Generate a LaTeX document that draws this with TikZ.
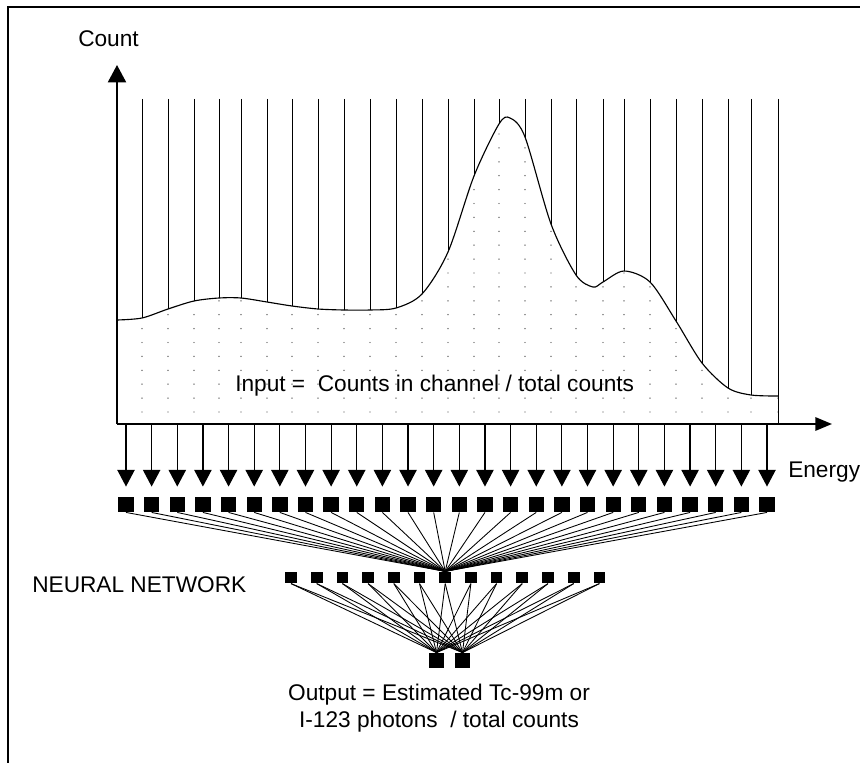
\documentclass[tikz,border=0pt]{standalone}
\usepackage{fontspec}
\setmainfont{Liberation Sans}
\usetikzlibrary{arrows.meta}
\begin{document}
\begin{tikzpicture}[x=0.75pt,y=-0.75pt,
  lbl/.style={font=\fontsize{17}{20}\selectfont, inner sep=0pt},
  insq/.style={fill=black, minimum size=11.5pt, inner sep=0pt},
  hsq/.style={fill=black, minimum size=8.75pt, inner sep=0pt},
  outsq/.style={fill=black, minimum size=11.5pt, inner sep=0pt},
  vline/.style={line width=0.75pt},
  downarr/.style={line width=0.9pt, shorten >=7.5pt, -{Triangle[width=13pt,length=12.5pt]}},
  axisline/.style={line width=1.6pt},
  netline/.style={line width=0.65pt},
  gdot/.style={fill=black!70},
]
\useasboundingbox (0,0) rectangle (860,763);
% frame
\draw[line width=1.5pt] (8,765) -- (8,7) -- (862,7);

% vertical channel lines above the curve
\begin{scope}
\clip (117,90) -- plot[smooth,tension=0.5] coordinates {(117,320) (142,318) (168,309) (194,301) (219,298) (241,298) (267,302) (292,306) (318,309) (344,310) (370,310) (396,308) (422,294) (448,252) (474,176) (499,124) (510,118) (525,137) (551,224) (576,275) (593,287) (603,282) (624,271) (650,282) (676,321) (702,363) (728,388) (751,395) (778,396)} -- (778,90) -- cycle;
\foreach \x in {142,168,194,219,241,267,292,318,344,370,396,422,448,474,499,525,551,576,603,624,650,676,702,728,751}
  \draw[vline] (\x,99) -- (\x,424);
\end{scope}
\draw[vline] (778,99) -- (778,424);

% dots below the curve
\begin{scope}
\clip (117,424) -- plot[smooth,tension=0.5] coordinates {(117,320) (142,318) (168,309) (194,301) (219,298) (241,298) (267,302) (292,306) (318,309) (344,310) (370,310) (396,308) (422,294) (448,252) (474,176) (499,124) (510,118) (525,137) (551,224) (576,275) (593,287) (603,282) (624,271) (650,282) (676,321) (702,363) (728,388) (751,395) (778,396)} -- (778,424) -- cycle;
\foreach \x in {142,168,194,219,241,267,292,318,344,370,396,422,448,474,499,525,551,576,603,624,650,676,702,728,751,778}
  \foreach \k in {0,...,21}
    \fill[gdot] (\x,{412-13.9*\k}) circle[radius=0.55pt];
\end{scope}

% the spectrum curve
\draw[line width=0.85pt] plot[smooth,tension=0.5] coordinates {(117,320) (142,318) (168,309) (194,301) (219,298) (241,298) (267,302) (292,306) (318,309) (344,310) (370,310) (396,308) (422,294) (448,252) (474,176) (499,124) (510,118) (525,137) (551,224) (576,275) (593,287) (603,282) (624,271) (650,282) (676,321) (702,363) (728,388) (751,395) (778,396)};

% axes
\coordinate (O) at (117,424);
\coordinate (ytop) at (117,65);
\coordinate (xend) at (832,424);
\draw[axisline,-{Triangle[width=13.5pt,length=13pt]}] (O) -- (ytop);
\draw[axisline,-{Triangle[width=10pt,length=12.5pt]}] (O) -- (xend);

% labels
\node[lbl, anchor=base west] (count) at (78,47) {Count};
\node[lbl, anchor=base west] (energy) at (788,477) {Energy};
\node[lbl, anchor=base west] (input) at (235,391) {Input =\ \ Counts in channel / total counts};
\node[lbl, anchor=base west] (nn) at (32,592) {NEURAL NETWORK};
\node[lbl, anchor=base] (out1) at (439,700) {Output = Estimated Tc-99m or};
\node[lbl, anchor=base] (out2) at (439,727) {I-123 photons\ \ / total counts};

% input layer
\foreach \i in {0,...,25}
  \node[insq] (in\i) at ({126+25.64*\i},504.5) {};
% hidden layer
\foreach \i in {1,...,13}
  \node[hsq] (h\i) at ({291+25.7*(\i-1)},577.5) {};
% output layer
\node[outsq] (o1) at (436.5,660.5) {};
\node[outsq] (o2) at (462.5,660.5) {};

% arrows from axis to inputs
\foreach \i in {0,...,25}
  \draw[downarr] (in\i.north |- O) -- (in\i.north);

% connections
\foreach \i in {0,...,25}
  \draw[netline] (in\i.south) -- (h7.north);
\foreach \i in {1,...,13} {
  \draw[netline] (h\i.south) -- (o1.north);
  \draw[netline] (h\i.south) -- (o2.north);
}
\end{tikzpicture}
\end{document}
